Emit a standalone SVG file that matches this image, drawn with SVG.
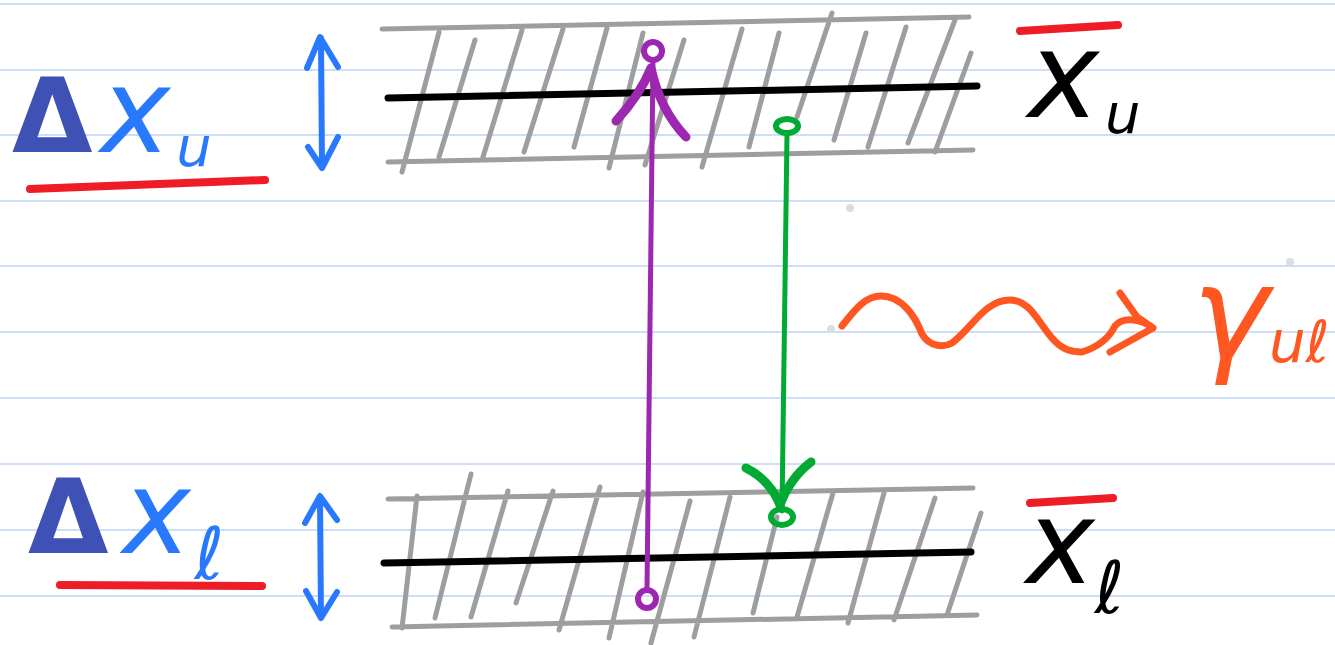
<svg xmlns="http://www.w3.org/2000/svg" width="1335" height="645" viewBox="0 0 1335 645">
<style>
.rule{stroke:#cddff7;stroke-width:2}
.s{fill:none;stroke-linecap:round;stroke-linejoin:round}
.gray{stroke:#9e9e9e;stroke-width:5}
.blk{stroke:#000;stroke-width:7}
.blue{stroke:#2979ff;stroke-width:6}
.red{stroke:#ee1c25;stroke-width:8}
.pur{stroke:#9c27b0}
.grn{stroke:#00aa33}
.org{stroke:#ff5722;stroke-width:7}
.t{font-family:"DejaVu Sans","Liberation Sans",sans-serif;font-style:italic}
.d{font-family:"DejaVu Sans","Liberation Sans",sans-serif;font-weight:bold;font-style:normal;fill:#3f51b5}
</style>
<rect width="1335" height="645" fill="#fff"/>
<g id="paper">
<line class="rule" x1="0" y1="4" x2="1335" y2="4"/>
<line class="rule" x1="0" y1="70" x2="1335" y2="70"/>
<line class="rule" x1="0" y1="135" x2="1335" y2="135"/>
<line class="rule" x1="0" y1="201" x2="1335" y2="201"/>
<line class="rule" x1="0" y1="266" x2="1335" y2="266"/>
<line class="rule" x1="0" y1="332" x2="1335" y2="332"/>
<line class="rule" x1="0" y1="398" x2="1335" y2="398"/>
<line class="rule" x1="0" y1="464" x2="1335" y2="464"/>
<line class="rule" x1="0" y1="530" x2="1335" y2="530"/>
<line class="rule" x1="0" y1="596" x2="1335" y2="596"/>
<circle cx="850" cy="208" r="4" fill="#ddd"/>
<circle cx="1290" cy="262" r="4" fill="#ddd"/>
<circle cx="831" cy="329" r="4" fill="#ddd"/>
</g>
<g id="upper-level">
<path class="s gray" d="M382 29L969 17M388 162L973 150M402 172L439 32M439 157L475 40M483 157L522 30M524 152L563 29M574 147L607 28M609 168L643 33M645 165L684 40M702 167L742 29M749 147L779 33M797 117L832 13M834 140L866 33M868 147L906 27M908 143L955 20M935 152L971 53"/>
<path class="s blk" d="M388 98L977 86"/>
</g>
<g id="lower-level">
<path class="s gray" d="M388 499L973 488M392 627L977 615M402 628L417 496M435 618L471 474M471 617L508 491M516 603L553 491M559 630L600 487M609 638L643 492M651 643L690 501M694 637L730 497M753 613L777 517M797 617L833 493M848 623L884 493M894 620L935 498M947 615L981 513"/>
<path class="s blk" d="M384 563L971 552"/>
</g>
<g id="label-dxu">
<path class="s blue" d="M321 38L322 168M307 68L320 37L338 67M308 147L322 168L338 137"/>
<path class="s red" stroke-width="7" d="M30 189L265 180"/>
<text class="t" x="12" y="152" fill="#2979ff"><tspan class="d" font-size="104">Δ</tspan><tspan dx="8" font-size="118">x</tspan><tspan dx="6" dy="14" font-size="56">u</tspan></text>
</g>
<g id="label-dxl">
<path class="s blue" d="M320 497L321 618M305 523L320 496L337 520M306 591L321 618L337 592"/>
<path class="s red" stroke-width="7" d="M60 585L262 586"/>
<text class="t" x="28" y="553" fill="#2979ff"><tspan class="d" font-size="104">Δ</tspan><tspan dx="14" font-size="115">x</tspan><tspan dx="4" dy="26" font-size="72">ℓ</tspan></text>
</g>
<g id="label-xu">
<path class="s red" stroke-width="10" d="M1020 31L1118 25"/>
<text class="t" x="1028" y="117" fill="#000"><tspan font-size="120">x</tspan><tspan dx="6" dy="16" font-size="56">u</tspan></text>
</g>
<g id="label-xl">
<path class="s red" stroke-width="10" d="M1030 503L1113 498"/>
<text class="t" x="1026" y="583" fill="#000"><tspan font-size="116">x</tspan><tspan dy="30" font-size="72">ℓ</tspan></text>
</g>
<g id="label-gamma">
<text class="t" x="1192" y="358" fill="#ff5722"><tspan font-size="130">γ</tspan><tspan dy="4" font-size="58">uℓ</tspan></text>
</g>
<g id="connectors">
<path class="s pur" stroke-width="5" d="M653 60L647 589"/>
<circle class="s pur" stroke-width="6" cx="653" cy="51" r="9"/>
<circle class="s pur" stroke-width="6" cx="647" cy="599" r="9"/>
<path class="s pur" stroke-width="9" d="M616 121Q640 95 651 68Q660 110 686 137"/>
<path class="s grn" stroke-width="5" d="M787 134L782 511"/>
<ellipse class="s grn" stroke-width="6" cx="787" cy="126" rx="11" ry="7"/>
<ellipse class="s grn" stroke-width="6" cx="782" cy="517" rx="11" ry="8"/>
<path class="s grn" stroke-width="9" d="M746 468Q770 480 780 505Q790 478 811 462"/>
<path class="s org" d="M842 326C856 308 866 296 881 296C902 296 915 316 922 334C930 348 945 347 952 343C972 328 985 300 1010 300C1030 300 1038 322 1052 338C1062 350 1072 352 1082 352C1095 348 1108 340 1115 326C1122 317 1140 318 1153 328M1120 293L1137 317L1153 328L1110 352"/>
</g>
</svg>
